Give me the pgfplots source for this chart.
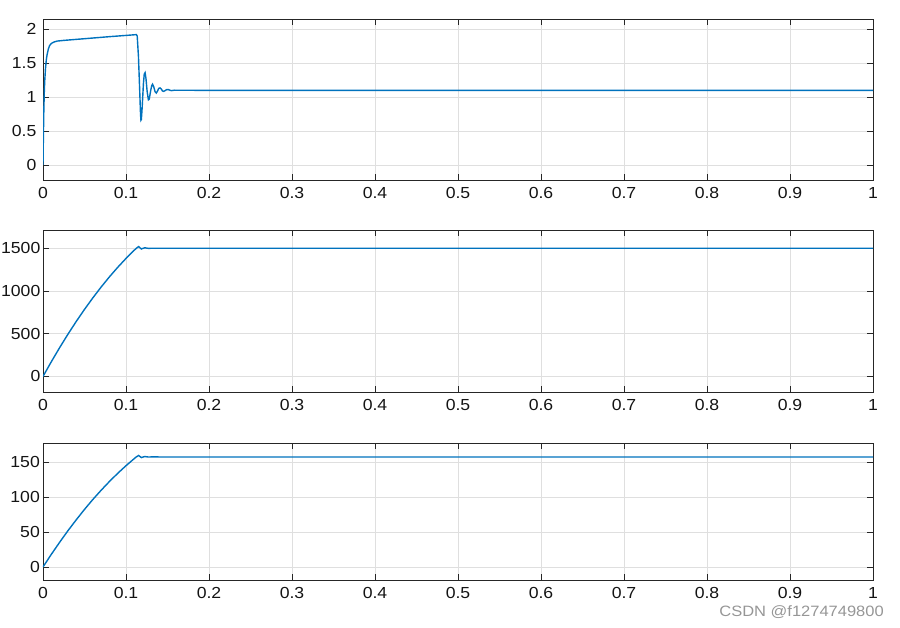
\documentclass[border=0pt]{standalone}
\usepackage{fontspec}
\setmainfont{Liberation Sans}[FakeStretch=1.1]
\usepackage{pgfplots}
\pgfplotsset{compat=1.18}
\definecolor{mblue}{RGB}{0,114,189}
\definecolor{gridc}{RGB}{223,223,223}
\definecolor{axc}{RGB}{38,38,38}
\pgfplotsset{
  every axis/.append style={
    scale only axis, width=830pt,
    xmin=0, xmax=1,
    xtick={0,0.1,0.2,0.3,0.4,0.5,0.6,0.7,0.8,0.9,1},
    xticklabels={0,0.1,0.2,0.3,0.4,0.5,0.6,0.7,0.8,0.9,1},
    grid=major,
    major grid style={color=gridc, line width=0.6pt},
    axis line style={color=axc, line width=0.7pt},
    tick style={color=axc, line width=0.7pt},
    tick align=inside, major tick length=6pt,
    tick label style={font=\fontsize{16}{18}\selectfont, text={rgb,255:red,20;green,20;blue,20}},
    xticklabel style={inner sep=0pt, yshift=-7pt},
    /pgf/number format/assume math mode=true,
    /pgf/number format/1000 sep={},
    scaled y ticks=false,
  }
}
\begin{document}
\begin{tikzpicture}[x=1pt,y=1pt]
\useasboundingbox (0,0) rectangle (900,-627);
% Panel 1
\begin{axis}[at={(43pt,-19pt)}, anchor=north west, height=161pt,
  ymin=-0.22, ymax=2.15, ytick={0,0.5,1,1.5,2},
  yticklabel style={inner sep=0pt, xshift=-6.5pt}]
\addplot[mblue, line width=1.4pt, mark=none] coordinates {
(0,0) (0.0005,0.45) (0.001,0.8) (0.0015,1.05) (0.002,1.22) (0.003,1.42) (0.004,1.55)
(0.005,1.63) (0.0065,1.71) (0.008,1.76) (0.010,1.79) (0.013,1.81) (0.017,1.825)
(0.025,1.835) (0.05,1.86) (0.08,1.89) (0.105,1.913) (0.1125,1.92) (0.1135,1.9)
(0.115,1.6) (0.1165,1.1) (0.1175,0.75) (0.118,0.66) (0.1185,0.67) (0.1195,0.85)
(0.121,1.2) (0.122,1.34) (0.123,1.36) (0.124,1.28) (0.1255,1.08) (0.127,0.96)
(0.128,0.97) (0.1295,1.08) (0.131,1.17) (0.132,1.19) (0.1335,1.15) (0.135,1.08)
(0.1365,1.06) (0.138,1.09) (0.1395,1.13) (0.141,1.135) (0.1425,1.12) (0.144,1.09)
(0.1455,1.085) (0.147,1.095) (0.149,1.11) (0.151,1.112) (0.153,1.1) (0.155,1.096)
(0.158,1.102) (0.162,1.101) (0.2,1.1) (1,1.1)
};
\end{axis}
% Panel 2
\begin{axis}[at={(43pt,-230pt)}, anchor=north west, height=162pt,
  ymin=-182, ymax=1714, ytick={0,500,1000,1500},
  yticklabel style={inner sep=0pt, xshift=-2.5pt}]
\addplot[mblue, line width=1.4pt, mark=none] coordinates {
(0,0) (0.01,172) (0.02,336.5) (0.03,493.6) (0.04,643) (0.05,784.9) (0.06,919.2)
(0.07,1046) (0.08,1165.4) (0.09,1277.1) (0.10,1381.3) (0.11,1478) (0.1124,1500)
(0.1152,1520) (0.1185,1492) (0.1225,1506) (0.127,1499) (0.132,1501) (0.14,1500) (1,1500)
};
\end{axis}
% Panel 3
\begin{axis}[at={(43pt,-443pt)}, anchor=north west, height=137pt,
  ymin=-18.6, ymax=177, ytick={0,50,100,150},
  yticklabel style={inner sep=0pt, xshift=-3pt}]
\addplot[mblue, line width=1.4pt, mark=none] coordinates {
(0,0) (0.01,18.0) (0.02,35.2) (0.03,51.7) (0.04,67.3) (0.05,82.2) (0.06,96.3)
(0.07,109.5) (0.08,122.0) (0.09,133.7) (0.10,144.6) (0.11,154.8) (0.1124,157.1)
(0.1152,159.2) (0.1185,156.2) (0.1225,157.7) (0.127,156.97) (0.132,157.2) (0.14,157.08) (1,157.08)
};
\end{axis}
\node[anchor=base east, inner sep=0pt, text={rgb,255:red,150;green,150;blue,150},
  font=\fontsize{15}{17}\selectfont] at (884,-616.7) {CSDN @f1274749800};
\end{tikzpicture}
\end{document}
